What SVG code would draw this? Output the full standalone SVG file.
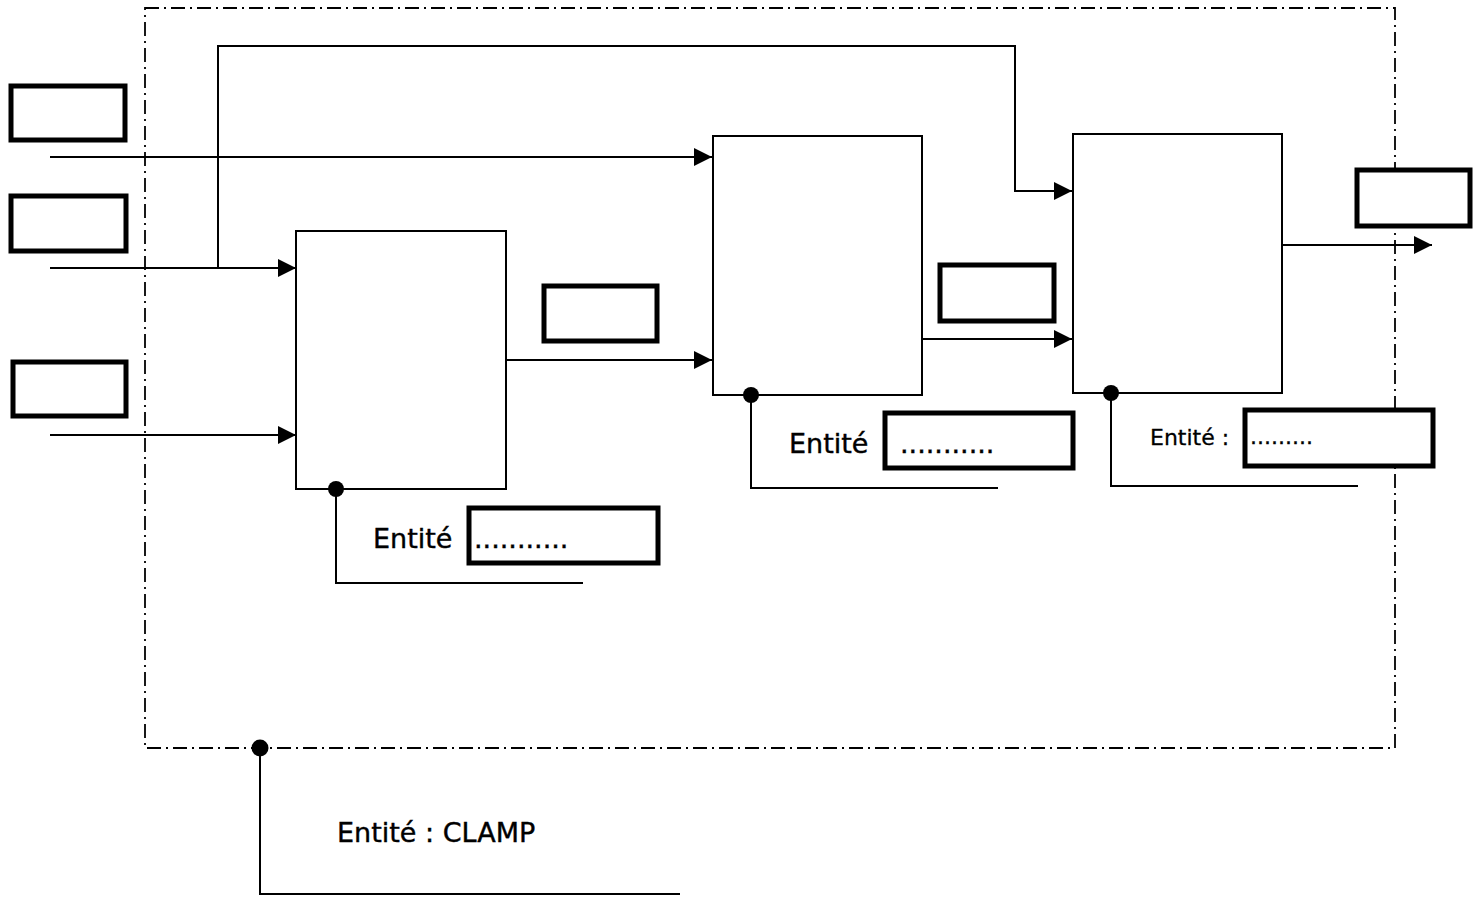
<svg xmlns="http://www.w3.org/2000/svg" width="1481" height="897" viewBox="0 0 1481 897">
<style>
.ln{fill:none;stroke:#000;stroke-width:2}
.blk{fill:#fff;stroke:#000;stroke-width:2}
.lbl{fill:#fff;stroke:#000;stroke-width:5}
.bnd{fill:none;stroke:#000;stroke-width:1.8;stroke-dasharray:14 5 2 5}
.t{font-family:"DejaVu Sans",sans-serif;font-size:27px;fill:#000;stroke:#000;stroke-width:0.4}
.ts{font-family:"DejaVu Sans",sans-serif;font-size:22px;fill:#000;stroke:#000;stroke-width:0.3}
</style>
<defs>
<marker id="ar" viewBox="0 0 18 18" refX="18" refY="9" markerWidth="18" markerHeight="18" markerUnits="userSpaceOnUse" orient="auto">
<path d="M0,0 L18,9 L0,18 z" fill="#000"/>
</marker>
</defs>
<rect id="boundary" class="bnd" x="145" y="8" width="1250" height="740"/>
<g id="connectors">
<path class="ln" d="M50,157 L712,157" marker-end="url(#ar)"/>
<path class="ln" d="M50,268 L296,268" marker-end="url(#ar)"/>
<path class="ln" d="M50,435 L296,435" marker-end="url(#ar)"/>
<path class="ln" d="M218,268 L218,46 L1015,46 L1015,191 L1072,191" marker-end="url(#ar)"/>
<path class="ln" d="M506,360 L712,360" marker-end="url(#ar)"/>
<path class="ln" d="M922,339 L1072,339" marker-end="url(#ar)"/>
<path class="ln" d="M1282,245 L1432,245" marker-end="url(#ar)"/>
<path class="ln" d="M336,489 L336,583 L583,583"/>
<path class="ln" d="M751,395 L751,488 L998,488"/>
<path class="ln" d="M1111,393 L1111,486 L1358,486"/>
<path class="ln" d="M260,748 L260,894 L680,894"/>
</g>
<g id="in1"><rect class="lbl" x="11" y="86" width="114" height="54"/></g>
<g id="in2"><rect class="lbl" x="11" y="196" width="115" height="55"/></g>
<g id="in3"><rect class="lbl" x="13" y="362" width="113" height="54"/></g>
<g id="block1"><rect class="blk" x="296" y="231" width="210" height="258"/>
<circle cx="336" cy="489" r="8" fill="#000"/></g>
<g id="sig1"><rect class="lbl" x="544" y="286" width="113" height="55"/></g>
<g id="ent1"><text class="t" x="373" y="548">Entité</text>
<rect class="lbl" x="469" y="508" width="189" height="55"/>
<text class="t" x="474" y="548">...........</text></g>
<g id="block2"><rect class="blk" x="713" y="136" width="209" height="259"/>
<circle cx="751" cy="395" r="8" fill="#000"/></g>
<g id="sig2"><rect class="lbl" x="940" y="265" width="114" height="56"/></g>
<g id="ent2"><text class="t" x="789" y="453">Entité</text>
<rect class="lbl" x="885" y="413" width="188" height="55"/>
<text class="t" x="900" y="453">...........</text></g>
<g id="block3"><rect class="blk" x="1073" y="134" width="209" height="259"/>
<circle cx="1111" cy="393" r="8" fill="#000"/></g>
<g id="out"><rect class="lbl" x="1357" y="170" width="113" height="56"/></g>
<g id="ent3"><text class="ts" x="1150" y="445">Entité :</text>
<rect class="lbl" x="1245" y="410" width="188" height="56"/>
<text class="ts" x="1250" y="444">.........</text></g>
<g id="clamp"><circle cx="260" cy="748" r="8.5" fill="#000"/>
<text class="t" x="337" y="842">Entité : CLAMP</text></g>
</svg>
